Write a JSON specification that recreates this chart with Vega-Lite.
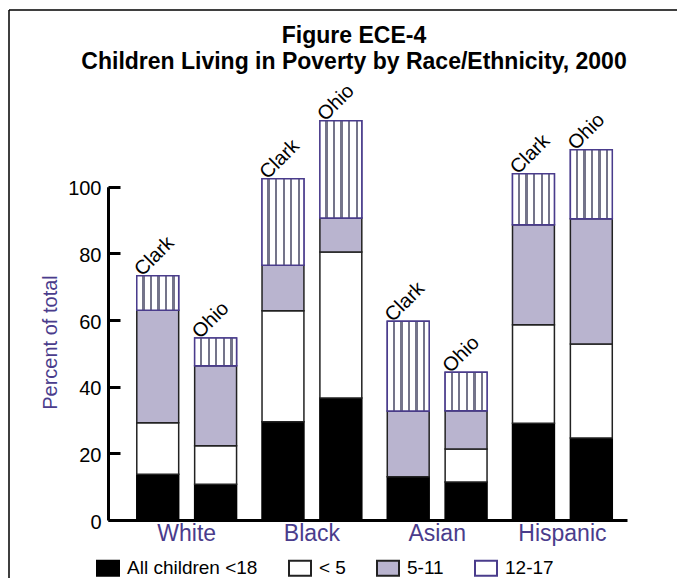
{
  "$schema": "https://vega.github.io/schema/vega-lite/v6.json",
  "width": 674,
  "height": 568,
  "padding": {"left": 9, "top": 10, "right": 0, "bottom": 0},
  "autosize": {"type": "none"},
  "config": {
    "font": "Liberation Sans",
    "view": {"stroke": "#000000", "strokeWidth": 1.5, "strokeDash": [668, 1248, 568, 0]}
  },
  "title": {
    "text": ["Figure ECE-4", "Children Living in Poverty by Race/Ethnicity, 2000"],
    "fontSize": 23,
    "fontWeight": "bold",
    "color": "#000000",
    "anchor": "middle",
    "frame": "group",
    "baseline": "alphabetic",
    "lineHeight": 26,
    "offset": -82,
    "dx": 8
  },
  "data": {
    "values": [
      {"race": "White", "county": "Clark", "group": "All children <18", "value": 13.7},
      {"race": "White", "county": "Clark", "group": "< 5", "value": 15.5},
      {"race": "White", "county": "Clark", "group": "5-11", "value": 33.7},
      {"race": "White", "county": "Clark", "group": "12-17", "value": 10.4},
      {"race": "White", "county": "Ohio", "group": "All children <18", "value": 10.7},
      {"race": "White", "county": "Ohio", "group": "< 5", "value": 11.6},
      {"race": "White", "county": "Ohio", "group": "5-11", "value": 24.0},
      {"race": "White", "county": "Ohio", "group": "12-17", "value": 8.3},
      {"race": "Black", "county": "Clark", "group": "All children <18", "value": 29.5},
      {"race": "Black", "county": "Clark", "group": "< 5", "value": 33.3},
      {"race": "Black", "county": "Clark", "group": "5-11", "value": 13.6},
      {"race": "Black", "county": "Clark", "group": "12-17", "value": 26.0},
      {"race": "Black", "county": "Ohio", "group": "All children <18", "value": 36.6},
      {"race": "Black", "county": "Ohio", "group": "< 5", "value": 43.8},
      {"race": "Black", "county": "Ohio", "group": "5-11", "value": 10.2},
      {"race": "Black", "county": "Ohio", "group": "12-17", "value": 29.2},
      {"race": "Asian", "county": "Clark", "group": "All children <18", "value": 13.0},
      {"race": "Asian", "county": "Clark", "group": "5-11", "value": 19.7},
      {"race": "Asian", "county": "Clark", "group": "12-17", "value": 26.9},
      {"race": "Asian", "county": "Ohio", "group": "All children <18", "value": 11.4},
      {"race": "Asian", "county": "Ohio", "group": "< 5", "value": 9.9},
      {"race": "Asian", "county": "Ohio", "group": "5-11", "value": 11.5},
      {"race": "Asian", "county": "Ohio", "group": "12-17", "value": 11.5},
      {"race": "Hispanic", "county": "Clark", "group": "All children <18", "value": 29.0},
      {"race": "Hispanic", "county": "Clark", "group": "< 5", "value": 29.6},
      {"race": "Hispanic", "county": "Clark", "group": "5-11", "value": 30.0},
      {"race": "Hispanic", "county": "Clark", "group": "12-17", "value": 15.3},
      {"race": "Hispanic", "county": "Ohio", "group": "All children <18", "value": 24.6},
      {"race": "Hispanic", "county": "Ohio", "group": "< 5", "value": 28.2},
      {"race": "Hispanic", "county": "Ohio", "group": "5-11", "value": 37.6},
      {"race": "Hispanic", "county": "Ohio", "group": "12-17", "value": 20.7}
    ]
  },
  "encoding": {
    "x": {
      "field": "race",
      "type": "nominal",
      "sort": ["White", "Black", "Asian", "Hispanic"],
      "scale": {"range": [99, 618], "paddingInner": 0, "paddingOuter": 0.072, "align": 0.89},
      "axis": {
        "orient": "bottom",
        "offset": -58,
        "title": null,
        "ticks": false,
        "labelAngle": 0,
        "labelFontSize": 23,
        "labelColor": "#4a3c8c",
        "labelPadding": 2,
        "domainColor": "#000000",
        "domainWidth": 3,
        "zindex": 1
      }
    },
    "xOffset": {
      "field": "county",
      "type": "nominal",
      "sort": ["Clark", "Ohio"],
      "scale": {"paddingInner": 0.276, "paddingOuter": 0.22}
    }
  },
  "layer": [
    {
      "transform": [
        {"stack": "value", "groupby": ["race", "county"], "sort": [{"field": "group", "order": "descending"}], "as": ["v0", "v1"]}
      ],
      "mark": {"type": "bar", "strokeWidth": 1.5},
      "encoding": {
        "y": {
          "field": "v0",
          "type": "quantitative",
          "scale": {"domain": [0, 100], "range": [510, 176.7], "nice": false, "zero": true},
          "axis": {
            "orient": "left",
            "offset": -99,
            "values": [0, 20, 40, 60, 80, 100],
            "grid": false,
            "domainColor": "#000000",
            "domainWidth": 3,
            "tickColor": "#000000",
            "tickWidth": 3,
            "tickSize": -12,
            "labelFontSize": 20,
            "labelColor": "#000000",
            "labelPadding": 19,
            "labelOffset": 2,
            "title": "Percent of total",
            "titleColor": "#4a3c8c",
            "titleFontSize": 20,
            "titleFontWeight": "normal",
            "titleAngle": 270,
            "titleX": -58,
            "titleY": 332,
            "titleAlign": "center",
            "titleBaseline": "middle",
            "zindex": 1
          }
        },
        "y2": {"field": "v1"},
        "fill": {
          "field": "group",
          "type": "nominal",
          "scale": {
            "domain": ["All children <18", "< 5", "5-11", "12-17"],
            "range": ["#000000", "#ffffff", "#b9b4cf", "#ffffff"]
          },
          "legend": {
            "orient": "none",
            "legendX": 87,
            "legendY": 546,
            "direction": "horizontal",
            "title": null,
            "symbolType": "M-1,-0.68H1V0.68H-1Z",
            "symbolSize": 484,
            "symbolStrokeWidth": 2,
            "labelFontSize": 19,
            "labelColor": "#000000",
            "labelOffset": 7,
            "columnPadding": 27,
            "padding": 0
          }
        },
        "stroke": {
          "field": "group",
          "type": "nominal",
          "scale": {
            "domain": ["All children <18", "< 5", "5-11", "12-17"],
            "range": ["#000000", "#222222", "#222222", "#4a3c8c"]
          }
        }
      }
    },
    {
      "transform": [
        {"stack": "value", "groupby": ["race", "county"], "sort": [{"field": "group", "order": "descending"}], "as": ["v0", "v1"]},
        {"filter": "datum.group === '12-17'"}
      ],
      "mark": {
        "type": "bar",
        "strokeWidth": 1.5,
        "stroke": "#4a3c8c",
        "fill": {
          "gradient": "linear",
          "x1": 0, "y1": 0, "x2": 1, "y2": 0,
          "stops": [
            {"offset": 0, "color": "#ffffff"},
            {"offset": 0.13, "color": "#ffffff"},
            {"offset": 0.13, "color": "#74748a"},
            {"offset": 0.185, "color": "#74748a"},
            {"offset": 0.185, "color": "#ffffff"},
            {"offset": 0.31, "color": "#ffffff"},
            {"offset": 0.31, "color": "#74748a"},
            {"offset": 0.365, "color": "#74748a"},
            {"offset": 0.365, "color": "#ffffff"},
            {"offset": 0.49, "color": "#ffffff"},
            {"offset": 0.49, "color": "#74748a"},
            {"offset": 0.545, "color": "#74748a"},
            {"offset": 0.545, "color": "#ffffff"},
            {"offset": 0.67, "color": "#ffffff"},
            {"offset": 0.67, "color": "#74748a"},
            {"offset": 0.725, "color": "#74748a"},
            {"offset": 0.725, "color": "#ffffff"},
            {"offset": 0.85, "color": "#ffffff"},
            {"offset": 0.85, "color": "#74748a"},
            {"offset": 0.905, "color": "#74748a"},
            {"offset": 0.905, "color": "#ffffff"},
            {"offset": 1, "color": "#ffffff"}
          ]
        }
      },
      "encoding": {
        "y": {"field": "v0", "type": "quantitative"},
        "y2": {"field": "v1"}
      }
    },
    {
      "transform": [
        {"aggregate": [{"op": "sum", "field": "value", "as": "total"}], "groupby": ["race", "county"]}
      ],
      "mark": {"type": "text", "angle": 315, "align": "left", "baseline": "alphabetic", "dx": -12, "dy": -10, "fontSize": 20, "color": "#000000"},
      "encoding": {
        "y": {"field": "total", "type": "quantitative"},
        "text": {"field": "county"}
      }
    }
  ]
}
